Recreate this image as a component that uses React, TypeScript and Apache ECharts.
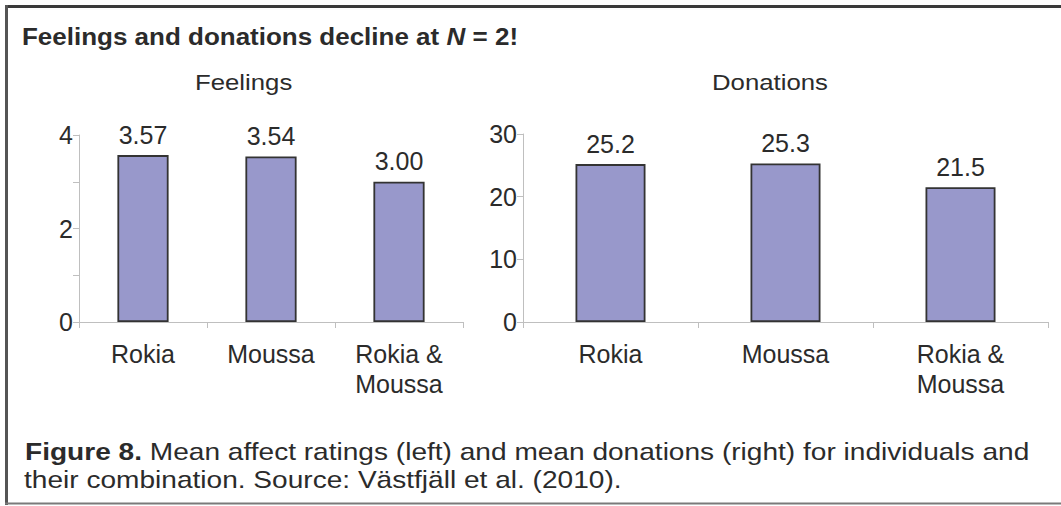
import React, { useEffect, useRef } from "react";
import * as echarts from "echarts";

const categories = ["Rokia", "Moussa", "Rokia & Moussa"];
const feelingsValues = [3.57, 3.54, 3.0];
const donationsValues = [25.2, 25.3, 21.5];
const titleText = "Feelings and donations decline at ";
const leftTitle = "Feelings";
const rightTitle = "Donations";
const captionLine1Bold = "Figure 8.";
const captionLine1 = " Mean affect ratings (left) and mean donations (right) for individuals and";
const captionLine2 = "their combination. Source: Västfjäll et al. (2010).";

const FONT = "'Liberation Sans', Arial, Helvetica, sans-serif";
const TEXT = "#2b2b2b";
const AXIS = "#bfbfbf";

export default function App() {
  const ref = useRef<HTMLDivElement>(null);
  useEffect(() => {
    document.body.style.margin = "0";
    const chart = echarts.init(ref.current!, null, { renderer: "svg" });
    const xAxisCommon = (gridIndex: number) => ({
      type: "category",
      gridIndex,
      data: categories,
      axisLine: { show: true, lineStyle: { color: AXIS, width: 1 } },
      axisTick: { show: true, length: 6, lineStyle: { color: AXIS } },
      axisLabel: {
        color: TEXT,
        fontSize: 25,
        fontFamily: FONT,
        margin: 17,
        lineHeight: 30,
        interval: 0,
        formatter: (v: string) => v.replace(" & ", " &\n"),
      },
    });
    const yAxisCommon = (gridIndex: number, max: number, interval: number, labelEvery: number) => ({
      type: "value",
      gridIndex,
      min: 0,
      max,
      interval,
      splitLine: { show: false },
      axisLine: { show: true, lineStyle: { color: AXIS, width: 1 } },
      axisTick: { show: true, length: 6, lineStyle: { color: AXIS } },
      axisLabel: {
        color: TEXT,
        fontSize: 25,
        fontFamily: FONT,
        margin: 6,
        formatter: (v: number) => (v % labelEvery === 0 ? String(v) : ""),
      },
    });
    const barStyle = {
      color: "#9898cb",
      borderColor: "#333333",
      borderWidth: 1.8,
    };
    chart.setOption({
      animation: false,
      backgroundColor: "#ffffff",
      grid: [
        { left: 79, top: 135, width: 384, height: 187, containLabel: false },
        { left: 523, top: 134, width: 525, height: 188, containLabel: false },
      ],
      xAxis: [xAxisCommon(0), xAxisCommon(1)],
      yAxis: [yAxisCommon(0, 4, 1, 2), yAxisCommon(1, 30, 10, 10)],
      series: [
        {
          type: "bar",
          xAxisIndex: 0,
          yAxisIndex: 0,
          data: feelingsValues,
          barWidth: "40%",
          itemStyle: barStyle,
          label: {
            show: true,
            position: "top",
            distance: 8,
            color: TEXT,
            fontSize: 25,
            fontFamily: FONT,
            formatter: (p: any) => feelingsValues[p.dataIndex].toFixed(2),
          },
        },
        {
          type: "bar",
          xAxisIndex: 1,
          yAxisIndex: 1,
          data: donationsValues,
          barWidth: "40%",
          itemStyle: barStyle,
          label: {
            show: true,
            position: "top",
            distance: 8,
            color: TEXT,
            fontSize: 25,
            fontFamily: FONT,
            formatter: (p: any) => donationsValues[p.dataIndex].toFixed(1),
          },
        },
      ],
      graphic: [
        { type: "line", shape: { x1: 5, y1: 6.5, x2: 1061, y2: 6.5 }, style: { stroke: "#3a3a3a", lineWidth: 3 } },
        { type: "line", shape: { x1: 6.5, y1: 5, x2: 6.5, y2: 505 }, style: { stroke: "#555555", lineWidth: 3 } },
        { type: "line", shape: { x1: 5, y1: 503.5, x2: 1061, y2: 503.5 }, style: { stroke: "#7a7a7a", lineWidth: 2 } },
        {
          type: "text",
          x: 22,
          y: 37,
          scaleX: 1.13,
          style: {
            text: "{n|" + titleText + "}{i|N}{n| = 2!}",
            rich: {
              n: { fontFamily: FONT, fontSize: 23, fontWeight: "bold", fill: TEXT },
              i: { fontFamily: FONT, fontSize: 23, fontWeight: "bold", fontStyle: "italic", fill: TEXT },
            },
            font: `bold 23px ${FONT}`,
            fill: TEXT,
            align: "left",
            verticalAlign: "middle",
          },
        },
        {
          type: "text",
          x: 195,
          y: 82,
          scaleX: 1.12,
          style: { text: leftTitle, font: `23px ${FONT}`, fill: TEXT, align: "left", verticalAlign: "middle" },
        },
        {
          type: "text",
          x: 712,
          y: 82,
          scaleX: 1.12,
          style: { text: rightTitle, font: `23px ${FONT}`, fill: TEXT, align: "left", verticalAlign: "middle" },
        },
        {
          type: "text",
          x: 25,
          y: 452,
          scaleX: 1.17,
          style: {
            text: "{b|" + captionLine1Bold + "}{n|" + captionLine1 + "}",
            rich: {
              b: { fontFamily: FONT, fontSize: 24, fontWeight: "bold", fill: TEXT },
              n: { fontFamily: FONT, fontSize: 24, fill: TEXT },
            },
            font: `24px ${FONT}`,
            fill: TEXT,
            align: "left",
            verticalAlign: "middle",
          },
        },
        {
          type: "text",
          x: 24,
          y: 480,
          scaleX: 1.17,
          style: { text: captionLine2, font: `24px ${FONT}`, fill: TEXT, align: "left", verticalAlign: "middle" },
        },
      ],
    });
    return () => chart.dispose();
  }, []);
  return (
    <div
      ref={ref}
      style={{ position: "fixed", left: 0, top: 0, width: 1061, height: 506 }}
    />
  );
}
